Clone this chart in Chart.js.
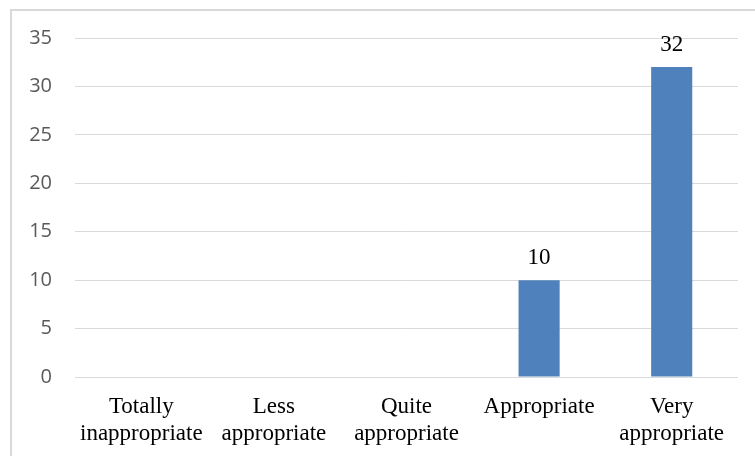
<!DOCTYPE html>
<html>
<head>
<meta charset="utf-8">
<script src="https://cdn.jsdelivr.net/npm/chart.js@4/dist/chart.umd.min.js"></script>
<style>
  html, body { margin: 0; padding: 0; background: #ffffff; }
  #wrap { position: relative; width: 755px; height: 456px; }
</style>
</head>
<body>
<div id="wrap"><canvas id="c" width="755" height="456"></canvas></div>
<script>
// Ratings of appropriateness (number of responses)
const categories = [
  ["Totally", "inappropriate"],
  ["Less", "appropriate"],
  ["Quite", "appropriate"],
  ["Appropriate"],
  ["Very", "appropriate"]
];
const responses = [null, null, null, 10, 32];
const yTicks = [0, 5, 10, 15, 20, 25, 30, 35];

// Light frame around the chart
const framePlugin = {
  id: 'frame',
  beforeDraw(chart) {
    const ctx = chart.ctx;
    ctx.save();
    ctx.strokeStyle = '#d9d9d9';
    ctx.lineWidth = 2;
    ctx.strokeRect(11, 10, chart.width + 10, chart.height + 10);
    ctx.restore();
  }
};

// Value labels above each bar
const valueLabels = {
  id: 'valueLabels',
  afterDatasetsDraw(chart) {
    const ctx = chart.ctx;
    const meta = chart.getDatasetMeta(0);
    const data = chart.data.datasets[0].data;
    ctx.save();
    ctx.font = '23px "Liberation Serif", "Times New Roman", serif';
    ctx.fillStyle = '#000000';
    ctx.textAlign = 'center';
    ctx.textBaseline = 'alphabetic';
    meta.data.forEach((bar, i) => {
      const v = data[i];
      if (v === null || v === undefined) return;
      ctx.fillText(String(v), bar.x, bar.y - 16);
    });
    ctx.restore();
  }
};

new Chart(document.getElementById('c'), {
  type: 'bar',
  data: {
    labels: categories,
    datasets: [{
      data: responses,
      backgroundColor: '#4f81bd',
      borderWidth: 0,
      barPercentage: 0.31,
      categoryPercentage: 1.0
    }]
  },
  options: {
    responsive: false,
    animation: false,
    devicePixelRatio: 1,
    layout: { padding: { top: 38, right: 17, bottom: 0, left: 0 } },
    plugins: {
      legend: { display: false },
      tooltip: { enabled: false },
      title: { display: false }
    },
    scales: {
      x: {
        grid: { display: false, drawTicks: false },
        border: { display: false },
        ticks: {
          color: '#000000',
          padding: 16,
          maxRotation: 0,
          autoSkip: false,
          font: { family: '"Liberation Serif", "Times New Roman", serif', size: 23, lineHeight: 1.2 }
        },
        afterFit(scale) { scale.height = 79; }
      },
      y: {
        min: 0,
        max: 35,
        afterBuildTicks(scale) { scale.ticks = yTicks.map(v => ({ value: v })); },
        grid: { color: '#d9d9d9', lineWidth: 1, drawTicks: false },
        border: { display: false },
        ticks: {
          color: '#595959',
          padding: 23,
          font: { family: '"Open Sans", sans-serif', size: 20 }
        },
        afterFit(scale) { scale.width = 75; }
      }
    }
  },
  plugins: [framePlugin, valueLabels]
});
</script>
</body>
</html>
